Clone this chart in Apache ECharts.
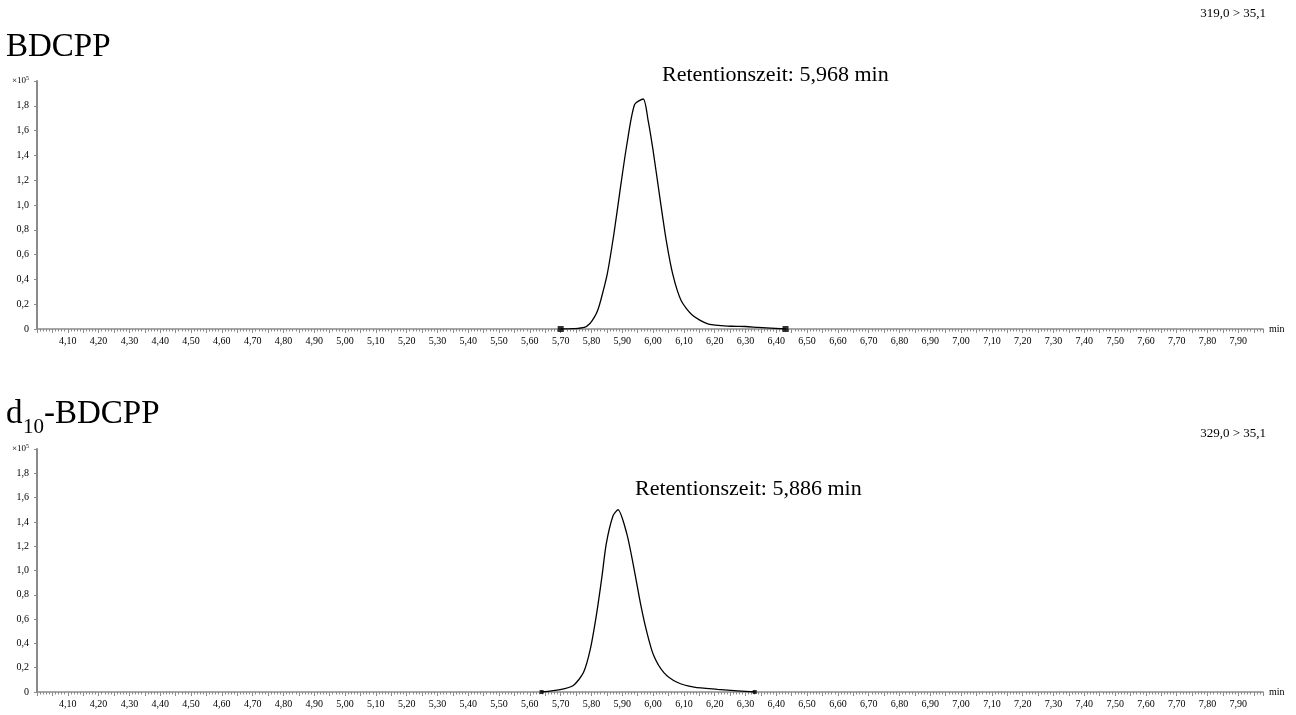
<!DOCTYPE html>
<html>
<head>
<meta charset="utf-8">
<script src="https://cdn.jsdelivr.net/npm/echarts@6/dist/echarts.min.js"></script>
<style>
html,body{margin:0;padding:0;background:#fff;}
#chart{width:1296px;height:715px;}
</style>
</head>
<body>
<div id="chart"></div>
<script>
// ---- data (abundance in units of 10^5, time in min) ----
const peak1Time  = [5.700, 5.740, 5.777, 5.795, 5.809, 5.820, 5.830, 5.851, 5.873, 5.894, 5.915, 5.940, 5.968, 5.984, 6.000, 6.022, 6.043, 6.064, 6.091, 6.128, 6.180, 6.256, 6.300, 6.341, 6.430];
const peak1Abund = [0.000, 0.003, 0.013, 0.045, 0.094, 0.150, 0.230, 0.440, 0.770, 1.140, 1.490, 1.810, 1.855, 1.680, 1.440, 1.060, 0.710, 0.440, 0.230, 0.110, 0.040, 0.022, 0.020, 0.013, 0.000];
const peak1Marks = [[5.700, 0], [6.430, 0]];

const peak2Time  = [5.638, 5.698, 5.741, 5.774, 5.796, 5.817, 5.834, 5.848, 5.870, 5.886, 5.915, 5.937, 5.959, 5.980, 6.002, 6.035, 6.078, 6.133, 6.209, 6.274, 6.330];
const peak2Abund = [0.000, 0.020, 0.054, 0.160, 0.350, 0.650, 0.950, 1.220, 1.450, 1.500, 1.300, 1.030, 0.730, 0.490, 0.300, 0.160, 0.080, 0.040, 0.022, 0.010, 0.000];
const peak2Marks = [[5.638, 0], [6.330, 0]];

const titles      = ['BDCPP', 'd10-BDCPP'];
const transitions = ['319,0 > 35,1', '329,0 > 35,1'];
const retention   = ['Retentionszeit: 5,968 min', 'Retentionszeit: 5,886 min'];
const xRange = [4.0, 7.98];
const yRange = [0, 2.0];

const FONT = '"Liberation Serif", "Times New Roman", serif';
const AX = '#8a8a8a';

function pairs(t, a){ return t.map((v,i)=>[v, a[i]]); }

function xAxisCfg(gi){
  return {
    gridIndex: gi, type: 'value', min: xRange[0], max: xRange[1], interval: 0.05,
    name: 'min', nameLocation: 'end', nameGap: 6,
    nameTextStyle: {fontFamily: FONT, fontSize: 10, color: '#000'},
    axisLine: {show: true, lineStyle: {color: AX, width: 1.5}},
    axisTick: {show: true, length: 4, lineStyle: {color: AX, width: 1}},
    minorTick: {show: true, splitNumber: 5, length: 2.5, lineStyle: {color: AX, width: 1}},
    splitLine: {show: false},
    axisLabel: {
      showMinLabel: false, margin: 7,
      fontFamily: FONT, fontSize: 10, color: '#000',
      formatter: v => {
        const c = Math.round(v*100);
        if (c % 10 !== 0) return '';
        return (c/100).toFixed(2).replace('.', ',');
      }
    }
  };
}
function yAxisCfg(gi){
  return {
    gridIndex: gi, type: 'value', min: yRange[0], max: yRange[1], interval: 0.2,
    axisLine: {show: true, lineStyle: {color: AX, width: 2}},
    axisTick: {show: true, length: 3, lineStyle: {color: AX, width: 1}},
    splitLine: {show: false},
    axisLabel: {
      margin: 8, fontFamily: FONT, fontSize: 10, color: '#000',
      formatter: v => {
        const c = Math.round(v*10);
        if (c === 0) return '0';
        if (c === 20) return '{a|×10}{b|5}';
        return (c/10).toFixed(1).replace('.', ',');
      },
      rich: {
        a: {fontFamily: FONT, fontSize: 9, color: '#000'},
        b: {fontFamily: FONT, fontSize: 6, color: '#000', padding: [0,0,6,0]}
      }
    }
  };
}

const chart = echarts.init(document.getElementById('chart'), null, {renderer: 'canvas'});
chart.setOption({
  backgroundColor: '#fff',
  animation: false,
  grid: [
    {left: 37, right: 33, top: 81, height: 248},
    {left: 37, right: 33, top: 449, height: 243}
  ],
  xAxis: [xAxisCfg(0), xAxisCfg(1)],
  yAxis: [yAxisCfg(0), yAxisCfg(1)],
  graphic: [
    {type: 'text', left: 6, top: 31, style: {text: titles[0], font: '33px ' + FONT, fill: '#000'}},
    {type: 'text', left: 6, top: 398, style: {text: 'd', font: '33px ' + FONT, fill: '#000'}},
    {type: 'text', left: 23, top: 417, style: {text: titles[1].slice(1,3), font: '21px ' + FONT, fill: '#000'}},
    {type: 'text', left: 44, top: 398, style: {text: titles[1].slice(3), font: '33px ' + FONT, fill: '#000'}},
    {type: 'text', right: 30, top: 7, style: {text: transitions[0], font: '13px ' + FONT, fill: '#000'}},
    {type: 'text', right: 30, top: 427, style: {text: transitions[1], font: '13px ' + FONT, fill: '#000'}},
    {type: 'text', left: 662, top: 64, style: {text: retention[0], font: '22px ' + FONT, fill: '#000'}},
    {type: 'text', left: 635, top: 478, style: {text: retention[1], font: '22px ' + FONT, fill: '#000'}}
  ],
  series: [
    {type: 'line', xAxisIndex: 0, yAxisIndex: 0, data: pairs(peak1Time, peak1Abund),
     showSymbol: false, smooth: 0.25, lineStyle: {color: '#000', width: 1.3}, z: 3},
    {type: 'scatter', xAxisIndex: 0, yAxisIndex: 0, data: peak1Marks, symbol: 'rect', symbolSize: 6,
     itemStyle: {color: '#000'}, z: 4},
    {type: 'line', xAxisIndex: 1, yAxisIndex: 1, data: pairs(peak2Time, peak2Abund),
     showSymbol: false, smooth: 0.25, lineStyle: {color: '#000', width: 1.3}, z: 3},
    {type: 'scatter', xAxisIndex: 1, yAxisIndex: 1, data: peak2Marks, symbol: 'rect', symbolSize: 4,
     itemStyle: {color: '#000'}, z: 4}
  ]
});
</script>
</body>
</html>
